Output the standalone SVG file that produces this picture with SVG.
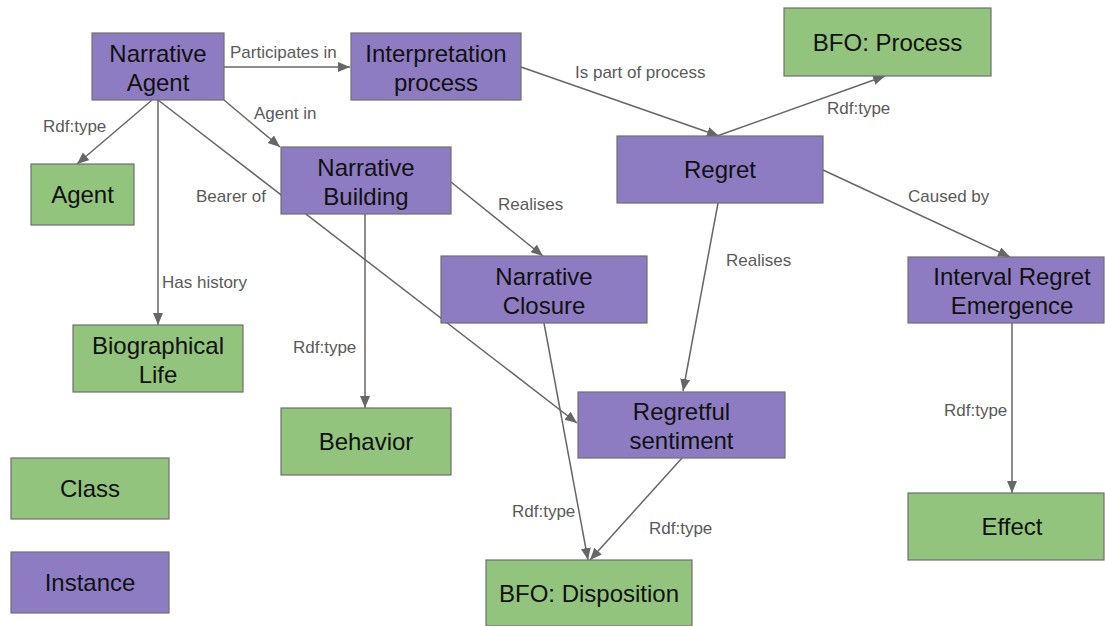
<svg xmlns="http://www.w3.org/2000/svg" width="1105" height="626" viewBox="0 0 1105 626">
<style>
.inst{fill:#8e7cc3;stroke:#6f6f6f;stroke-width:1.2}
.cls{fill:#93c47d;stroke:#6f6f6f;stroke-width:1.2}
.nt{font-family:"Liberation Sans",Arial,sans-serif;font-size:24px;fill:#111;text-anchor:middle}
.lb{font-family:"Liberation Sans",Arial,sans-serif;font-size:17px;fill:#5a5a5a}
.ed{stroke:#666;stroke-width:1.5;fill:none;marker-end:url(#ah)}
</style>
<defs>
<marker id="ah" markerUnits="userSpaceOnUse" markerWidth="13" markerHeight="11" refX="12" refY="5" orient="auto">
<path d="M0,0 L12,5 L0,10 z" fill="#666"/>
</marker>
</defs>
<rect width="1105" height="626" fill="#fff"/>
<g id="connectors">
<line class="ed" x1="224" y1="67" x2="350" y2="67"/>
<line class="ed" x1="152" y1="100" x2="77" y2="164"/>
<line class="ed" x1="158" y1="100" x2="158" y2="325"/>
<line class="ed" x1="158" y1="100" x2="577" y2="423"/>
<line class="ed" x1="224" y1="100" x2="280" y2="147"/>
<line class="ed" x1="521" y1="67" x2="719" y2="136"/>
<line class="ed" x1="717" y1="136" x2="885" y2="76"/>
<line class="ed" x1="823" y1="170" x2="1010" y2="257"/>
<line class="ed" x1="718" y1="203" x2="683" y2="391"/>
<line class="ed" x1="451" y1="182" x2="543" y2="256"/>
<line class="ed" x1="365" y1="214" x2="365" y2="408"/>
<line class="ed" x1="544" y1="323" x2="588" y2="560"/>
<line class="ed" x1="682" y1="458" x2="590" y2="560"/>
<line class="ed" x1="1012" y1="323" x2="1012" y2="493"/>
<text class="lb" x="230" y="58">Participates in</text>
<text class="lb" x="43" y="132">Rdf:type</text>
<text class="lb" x="254" y="119">Agent in</text>
<text class="lb" x="196" y="202">Bearer of</text>
<text class="lb" x="162" y="288">Has history</text>
<text class="lb" x="293" y="353">Rdf:type</text>
<text class="lb" x="575" y="78">Is part of process</text>
<text class="lb" x="498" y="210">Realises</text>
<text class="lb" x="827" y="114">Rdf:type</text>
<text class="lb" x="908" y="202">Caused by</text>
<text class="lb" x="726" y="266">Realises</text>
<text class="lb" x="944" y="416">Rdf:type</text>
<text class="lb" x="512" y="517">Rdf:type</text>
<text class="lb" x="649" y="534">Rdf:type</text>
</g>
<g id="narrative-agent"><rect class="inst" x="92" y="33" width="132" height="67"/><text class="nt" x="158" y="61.5">Narrative</text><text class="nt" x="158" y="90.5">Agent</text></g>
<g id="interpretation-process"><rect class="inst" x="351" y="33" width="170" height="67"/><text class="nt" x="436" y="61.5">Interpretation</text><text class="nt" x="436" y="90.5">process</text></g>
<g id="bfo-process"><rect class="cls" x="784" y="8" width="207" height="68"/><text class="nt" x="887.5" y="50.5">BFO: Process</text></g>
<g id="agent"><rect class="cls" x="31" y="164" width="103" height="61"/><text class="nt" x="82.5" y="203">Agent</text></g>
<g id="narrative-building"><rect class="inst" x="281" y="147" width="170" height="67"/><text class="nt" x="366" y="175.5">Narrative</text><text class="nt" x="366" y="204.5">Building</text></g>
<g id="regret"><rect class="inst" x="617" y="136" width="206" height="67"/><text class="nt" x="720" y="178">Regret</text></g>
<g id="narrative-closure"><rect class="inst" x="441" y="256" width="206" height="67"/><text class="nt" x="544" y="284.5">Narrative</text><text class="nt" x="544" y="313.5">Closure</text></g>
<g id="interval-regret-emergence"><rect class="inst" x="908" y="257" width="196" height="66"/><text class="nt" x="1012" y="285">Interval Regret</text><text class="nt" x="1012" y="314">Emergence</text></g>
<g id="biographical-life"><rect class="cls" x="73" y="325" width="170" height="67"/><text class="nt" x="158" y="353.5">Biographical</text><text class="nt" x="158" y="382.5">Life</text></g>
<g id="behavior"><rect class="cls" x="281" y="408" width="170" height="67"/><text class="nt" x="366" y="450">Behavior</text></g>
<g id="regretful-sentiment"><rect class="inst" x="578" y="392" width="207" height="66"/><text class="nt" x="681.5" y="420">Regretful</text><text class="nt" x="681.5" y="449">sentiment</text></g>
<g id="bfo-disposition"><rect class="cls" x="486" y="560" width="206" height="66"/><text class="nt" x="589" y="602">BFO: Disposition</text></g>
<g id="effect"><rect class="cls" x="908" y="493" width="196" height="67"/><text class="nt" x="1012" y="535">Effect</text></g>
<g id="legend-class"><rect class="cls" x="11" y="458" width="158" height="61"/><text class="nt" x="90" y="497">Class</text></g>
<g id="legend-instance"><rect class="inst" x="11" y="552" width="158" height="61"/><text class="nt" x="90" y="591">Instance</text></g>
</svg>
